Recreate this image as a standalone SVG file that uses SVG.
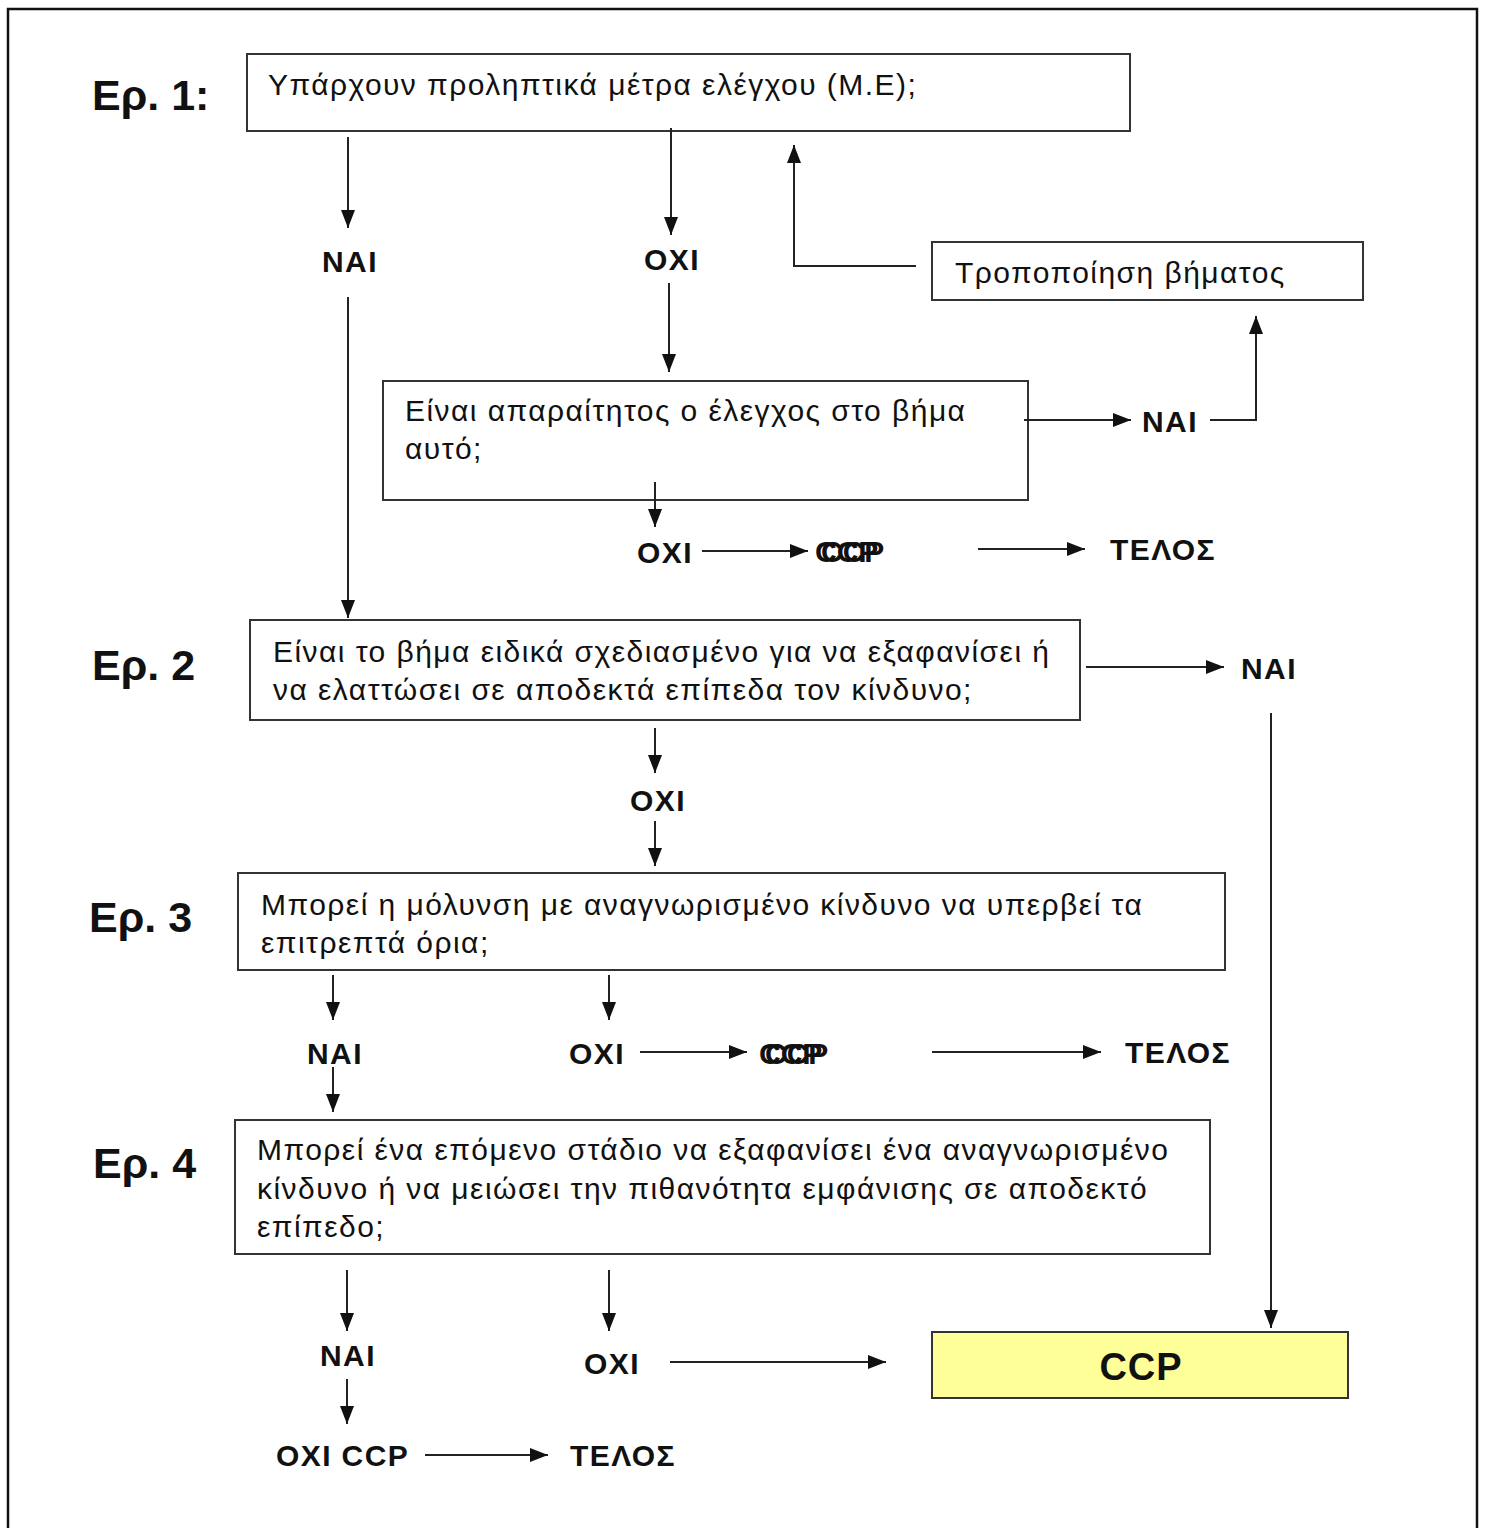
<svg xmlns="http://www.w3.org/2000/svg" width="1485" height="1528" viewBox="0 0 1485 1528">
<style>
.box{fill:#fff;stroke:#333;stroke-width:2}
.t{font-family:"Liberation Sans",Arial,sans-serif;font-size:30px;fill:#111;letter-spacing:1.45px}
.b{font-family:"Liberation Sans",Arial,sans-serif;font-size:30px;font-weight:bold;fill:#111;letter-spacing:1.4px}
.o{font-family:"Liberation Sans",Arial,sans-serif;font-size:30px;font-weight:bold;fill:#111}
.q{font-family:"Liberation Sans",Arial,sans-serif;font-size:43px;font-weight:bold;fill:#111}
.c{fill:none;stroke:#222;stroke-width:2}
</style>
<defs>
<marker id="ah" markerUnits="userSpaceOnUse" markerWidth="20" markerHeight="16" refX="18" refY="8" orient="auto"><path d="M0,1 L18,8 L0,15 Z" fill="#111"/></marker>
</defs>
<rect x="0" y="0" width="1485" height="1528" fill="#fff"/>
<path d="M8,1528 V9 H1477 V1528" fill="none" stroke="#111" stroke-width="2.5"/>

<g id="q1"><text class="q" x="92" y="110">Ερ. 1:</text></g>
<g id="q2"><text class="q" x="92" y="680">Ερ. 2</text></g>
<g id="q3"><text class="q" x="89" y="932">Ερ. 3</text></g>
<g id="q4"><text class="q" x="93" y="1178">Ερ. 4</text></g>

<g id="box1"><rect class="box" x="247" y="54" width="883" height="77"/><text class="t" x="268" y="95">Υπάρχουν προληπτικά μέτρα ελέγχου (Μ.Ε);</text></g>
<g id="modify"><rect class="box" x="932" y="242" width="431" height="58"/><text class="t" x="955" y="283">Τροποποίηση βήματος</text></g>
<g id="box2"><rect class="box" x="383" y="381" width="645" height="119"/><text class="t" x="405" y="421">Είναι απαραίτητος ο έλεγχος στο βήμα</text><text class="t" x="405" y="459">αυτό;</text></g>
<g id="box3"><rect class="box" x="250" y="620" width="830" height="100"/><text class="t" x="273" y="662">Είναι το βήμα ειδικά σχεδιασμένο για να εξαφανίσει ή</text><text class="t" x="273" y="700">να ελαττώσει σε αποδεκτά επίπεδα τον κίνδυνο;</text></g>
<g id="box4"><rect class="box" x="238" y="873" width="987" height="97"/><text class="t" x="261" y="915">Μπορεί η μόλυνση με αναγνωρισμένο κίνδυνο να υπερβεί τα</text><text class="t" x="261" y="953">επιτρεπτά όρια;</text></g>
<g id="box5"><rect class="box" x="235" y="1120" width="975" height="134"/><text class="t" x="257" y="1160">Μπορεί ένα επόμενο στάδιο να εξαφανίσει ένα αναγνωρισμένο</text><text class="t" x="257" y="1199">κίνδυνο ή να μειώσει την πιθανότητα εμφάνισης σε αποδεκτό</text><text class="t" x="257" y="1237">επίπεδο;</text></g>
<g id="ccp"><rect x="932" y="1332" width="416" height="66" fill="#ffff99" stroke="#333" stroke-width="2"/><text class="b" x="1141" y="1380" text-anchor="middle" style="font-size:38px;letter-spacing:1px">CCP</text></g>

<g id="labels">
<text class="b" x="322" y="272">NAI</text>
<text class="b" x="644" y="270">OXI</text>
<text class="b" x="1142" y="432">NAI</text>
<text class="b" x="637" y="563">OXI</text>
<text class="o" x="815" y="562">CCP</text>
<text class="o" x="821" y="562">CCP</text>
<text class="b" x="1110" y="560">ΤΕΛΟΣ</text>
<text class="b" x="1241" y="679">NAI</text>
<text class="b" x="630" y="811">OXI</text>
<text class="b" x="307" y="1064">NAI</text>
<text class="b" x="569" y="1064">OXI</text>
<text class="o" x="759" y="1064">CCP</text>
<text class="o" x="765" y="1064">CCP</text>
<text class="b" x="1125" y="1063">ΤΕΛΟΣ</text>
<text class="b" x="320" y="1366">NAI</text>
<text class="b" x="584" y="1374">OXI</text>
<text class="b" x="276" y="1466">OXI CCP</text>
<text class="b" x="570" y="1466">ΤΕΛΟΣ</text>
</g>

<g id="connectors">
<path class="c" d="M348,137 V228" marker-end="url(#ah)"/>
<path class="c" d="M671,128 V235" marker-end="url(#ah)"/>
<path class="c" d="M916,266 H794 V145" marker-end="url(#ah)"/>
<path class="c" d="M669,283 V372" marker-end="url(#ah)"/>
<path class="c" d="M1024,420 H1131" marker-end="url(#ah)"/>
<path class="c" d="M1210,420 H1256 V316" marker-end="url(#ah)"/>
<path class="c" d="M655,482 V527" marker-end="url(#ah)"/>
<path class="c" d="M702,551 H808" marker-end="url(#ah)"/>
<path class="c" d="M978,549 H1085" marker-end="url(#ah)"/>
<path class="c" d="M348,297 V618" marker-end="url(#ah)"/>
<path class="c" d="M1086,667 H1224" marker-end="url(#ah)"/>
<path class="c" d="M1271,713 V1328" marker-end="url(#ah)"/>
<path class="c" d="M655,728 V773" marker-end="url(#ah)"/>
<path class="c" d="M655,821 V866" marker-end="url(#ah)"/>
<path class="c" d="M333,975 V1020" marker-end="url(#ah)"/>
<path class="c" d="M333,1067 V1112" marker-end="url(#ah)"/>
<path class="c" d="M609,975 V1020" marker-end="url(#ah)"/>
<path class="c" d="M640,1052 H747" marker-end="url(#ah)"/>
<path class="c" d="M932,1052 H1101" marker-end="url(#ah)"/>
<path class="c" d="M347,1270 V1331" marker-end="url(#ah)"/>
<path class="c" d="M347,1379 V1424" marker-end="url(#ah)"/>
<path class="c" d="M609,1270 V1331" marker-end="url(#ah)"/>
<path class="c" d="M670,1362 H886" marker-end="url(#ah)"/>
<path class="c" d="M425,1455 H548" marker-end="url(#ah)"/>
</g>
</svg>
